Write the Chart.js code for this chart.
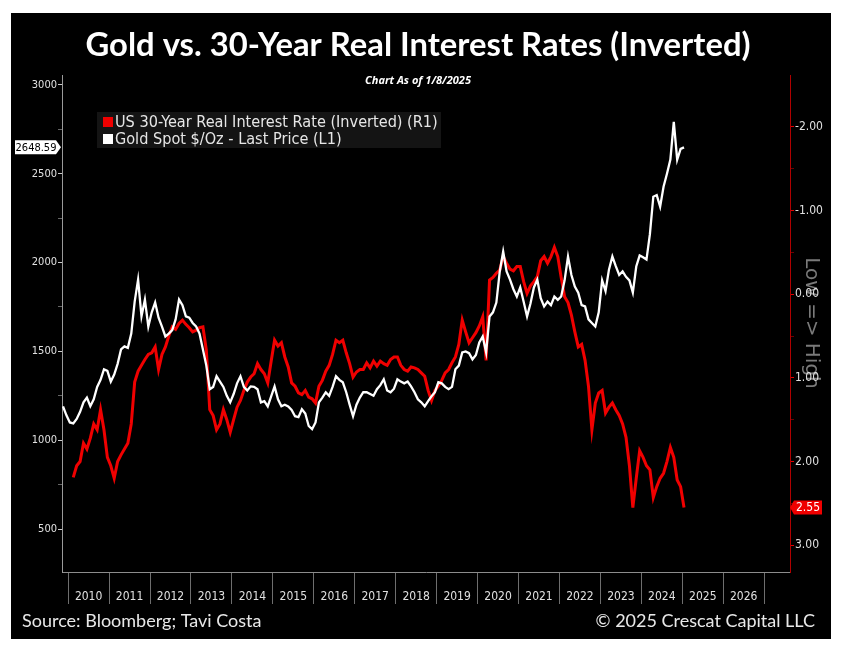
<!DOCTYPE html>
<html>
<head>
<meta charset="utf-8">
<script src="https://cdn.jsdelivr.net/npm/chart.js@4"></script>
<style>
html,body{margin:0;padding:0;background:#fff;}
#box{position:absolute;left:11px;top:13px;width:820px;height:626px;background:#000;}
</style>
</head>
<body>
<div id="box"><canvas id="myChart"></canvas></div>
<script>
'use strict'
// texts
let titleText = 'Gold vs. 30-Year Real Interest Rates (Inverted)';
let subTitle = 'Chart As of 1/8/2025';
let rateName = 'US 30-Year Real Interest Rate (Inverted) (R1)';
let goldName = 'Gold Spot $/Oz - Last Price (L1)';
let sideLabel = 'Low => High';
let sourceText = 'Source: Bloomberg; Tavi Costa';
let copyText = '\u00A9 2025 Crescat Capital LLC';

// axes
let yearTicks = [2010,2011,2012,2013,2014,2015,2016,2017,2018,2019,2020,2021,2022,2023,2024,2025,2026];
let goldTicks = [500,750,1000,1250,1500,1750,2000,2250,2500,2750,3000];
let rateTicks = [-2,-1.5,-1,-0.5,0,0.5,1,1.5,2,2.5,3];

// gold monthly, starts Nov 2009
let goldStart = [2009, 11];
let gold = [
 1190,1140,
 1100,1095,1120,1160,1213,1240,1191,1230,1300,1340,1399,1390,
 1330,1370,1430,1511,1528,1520,1600,1780,1904,1697,1792,1640,
 1720,1775,1690,1640,1584,1600,1620,1680,1792,1760,1697,1690,
 1660,1640,1600,1511,1420,1287,1300,1360,1330,1300,1250,1213,
 1260,1320,1360,1300,1280,1303,1300,1287,1213,1220,1190,1247,
 1303,1230,1191,1200,1190,1170,1135,1130,1174,1150,1080,1062,
 1100,1213,1240,1270,1250,1300,1360,1340,1326,1270,1200,1135,
 1200,1240,1270,1270,1260,1250,1287,1310,1343,1280,1270,1290,
 1343,1330,1320,1330,1303,1270,1230,1213,1191,1220,1247,1270,
 1326,1320,1300,1287,1300,1399,1420,1494,1500,1490,1455,1480,
 1550,1584,1494,1697,1720,1775,1950,2062,1950,1904,1850,1809,
 1860,1780,1697,1770,1860,1904,1800,1753,1780,1760,1809,1790,
 1809,1900,2034,1930,1865,1830,1760,1753,1680,1660,1640,1720,
 1900,1840,1960,2034,1980,1930,1950,1920,1900,1831,1978,2040,
 2030,2017,2160,2371,2380,2315,2427,2500,2580,2792,2579,2640,
 2648.59
];

// 30y real rate monthly, starts Feb 2010
let rateStart = [2010, 2];
let rate = [
 2.19,2.05,2.00,1.78,1.85,1.72,1.55,1.62,1.38,1.62,1.95,
 2.05,2.20,2.00,1.92,1.85,1.78,1.55,1.05,0.92,0.85,0.78,0.72,
 0.70,0.63,0.90,0.72,0.63,0.50,0.39,0.42,0.35,0.31,0.36,0.40,
 0.45,0.43,0.40,0.39,0.67,1.38,1.45,1.62,1.55,1.38,1.50,1.65,
 1.50,1.35,1.27,1.15,1.05,0.99,0.95,0.83,0.90,0.95,1.06,0.80,
 0.55,0.62,0.58,0.75,0.87,1.06,1.10,1.18,1.20,1.15,1.23,1.25,
 1.30,1.10,1.03,0.92,0.85,0.72,0.55,0.58,0.55,0.70,0.83,0.99,
 0.93,0.90,0.90,0.82,0.88,0.80,0.86,0.80,0.83,0.85,0.78,0.75,
 0.75,0.85,0.90,0.92,0.87,0.88,0.90,0.94,0.98,1.15,1.27,1.15,
 1.10,1.03,0.94,0.90,0.82,0.75,0.60,0.31,0.45,0.58,0.52,0.46,
 0.38,0.27,0.79,-0.17,-0.20,-0.25,-0.29,-0.45,-0.37,-0.30,-0.28,-0.33,
 -0.33,-0.15,-0.01,-0.10,-0.15,-0.21,-0.40,-0.45,-0.37,-0.45,-0.56,-0.45,
 -0.20,0.03,0.10,0.25,0.45,0.63,0.60,0.79,1.10,1.62,1.30,1.18,
 1.15,1.42,1.35,1.30,1.38,1.45,1.55,1.71,2.05,2.55,2.20,1.87,
 1.95,2.05,2.10,2.43,2.30,2.20,2.14,2.00,1.83,1.95,2.22,2.30,
 2.55
];

let redColor = '#f00000';
let condFont = '"DejaVu Sans Condensed", "DejaVu Sans", sans-serif';

function toPoints(start, values) {
  let pts = [];
  for (let i = 0; i < values.length; i++) {
    let m = start[1] - 1 + i;
    pts.push({x: start[0] + Math.floor(m / 12) + ((m % 12) + 0.5) / 12, y: values[i]});
  }
  return pts;
}

function fitFont(ctx, text, base, family, width, weight) {
  ctx.font = weight + ' ' + base + 'px ' + family;
  let w = ctx.measureText(text).width;
  return weight + ' ' + (base * width / w).toFixed(2) + 'px ' + family;
}

const textPlugin = {
  id: 'texts',
  beforeDraw(chart) {
    let ctx = chart.ctx;
    ctx.save();
    ctx.translate(800, 310);
    ctx.rotate(Math.PI / 2);
    ctx.fillStyle = '#7a7a7a';
    ctx.font = '20px "DejaVu Sans"';
    ctx.textAlign = 'center';
    ctx.textBaseline = 'middle';
    ctx.fillText(sideLabel, 0, 0);
    ctx.restore();
  },
  afterDraw(chart) {
    let ctx = chart.ctx;
    ctx.save();
    // title
    ctx.fillStyle = '#ffffff';
    ctx.textAlign = 'center';
    ctx.textBaseline = 'middle';
    ctx.font = 'bold 33px Lato';
    ctx.fillText(titleText, 407, 32, 665);
    ctx.font = 'italic bold 11px "Open Sans"';
    ctx.fillText(subTitle, 407, 68);

    // legend
    ctx.fillStyle = '#141414';
    ctx.fillRect(86, 99, 344, 36);
    ctx.fillStyle = redColor;
    ctx.fillRect(92, 104, 10, 10);
    ctx.fillStyle = '#ffffff';
    ctx.fillRect(92, 121, 10, 10);
    ctx.fillStyle = '#e6e6e6';
    ctx.textAlign = 'left';
    ctx.font = fitFont(ctx, rateName, 14, condFont, 323, 'normal');
    ctx.fillText(rateName, 104, 110);
    ctx.fillText(goldName, 104, 127);

    // last value tags
    let yl = chart.scales.y.getPixelForValue(gold[gold.length - 1]);
    ctx.fillStyle = '#ffffff';
    ctx.beginPath();
    ctx.moveTo(4, yl - 7);
    ctx.lineTo(45, yl - 7);
    ctx.lineTo(50, yl);
    ctx.lineTo(45, yl + 7);
    ctx.lineTo(4, yl + 7);
    ctx.closePath();
    ctx.fill();
    ctx.fillStyle = '#000000';
    ctx.textAlign = 'center';
    ctx.font = '11px ' + condFont;
    ctx.fillText(gold[gold.length - 1].toFixed(2), 25, yl + 0.5);

    let yr = chart.scales.y1.getPixelForValue(rate[rate.length - 1]);
    ctx.fillStyle = redColor;
    ctx.beginPath();
    ctx.moveTo(779, yr);
    ctx.lineTo(783, yr - 7);
    ctx.lineTo(811, yr - 7);
    ctx.lineTo(811, yr + 7);
    ctx.lineTo(783, yr + 7);
    ctx.closePath();
    ctx.fill();
    ctx.fillStyle = '#ffffff';
    ctx.font = '12px ' + condFont;
    ctx.fillText(rate[rate.length - 1].toFixed(2), 797, yr + 0.5);

    // footer
    ctx.fillStyle = '#e8e8e8';
    ctx.font = '18px Lato';
    ctx.textAlign = 'left';
    ctx.fillText(sourceText, 11, 608);
    ctx.textAlign = 'right';
    ctx.fillText(copyText, 804, 608);
    ctx.restore();
  }
};

let ctx = document.getElementById('myChart').getContext('2d');
let myChart = new Chart(ctx, {
  type: 'line',
  data: {
    datasets: [
      {
        label: goldName,
        data: toPoints(goldStart, gold),
        yAxisID: 'y',
        borderColor: '#ffffff',
        borderWidth: 2.3,
        pointRadius: 0,
        tension: 0
      },
      {
        label: rateName,
        data: toPoints(rateStart, rate),
        yAxisID: 'y1',
        borderColor: redColor,
        borderWidth: 3,
        pointRadius: 0,
        tension: 0
      }
    ]
  },
  options: {
    responsive: true,
    maintainAspectRatio: false,
    animation: false,
    layout: {padding: {top: 62, left: 0, right: 0, bottom: 0}},
    plugins: {legend: {display: false}, tooltip: {enabled: false}, title: {display: false}},
    scales: {
      x: {
        type: 'linear',
        min: 2009.85,
        max: 2027.63,
        afterBuildTicks: s => { s.ticks = yearTicks.concat([2027]).map(v => ({value: v})); },
        afterFit: s => { s.height = 67; },
        grid: {display: true, drawOnChartArea: false, drawTicks: true, tickLength: 32, color: '#6e6e6e'},
        border: {display: true, color: '#8c8c8c'},
        ticks: {
          autoSkip: false, maxRotation: 0, labelOffset: 20.47, padding: -14,
          color: '#e0e0e0', font: {family: condFont, size: 12},
          callback: v => yearTicks.includes(v) ? String(v) : ''
        }
      },
      y: {
        position: 'left',
        min: 258,
        max: 3056,
        afterBuildTicks: s => { s.ticks = goldTicks.map(v => ({value: v})); },
        afterFit: s => { s.width = 51; },
        grid: {drawOnChartArea: false, tickLength: 4, tickColor: c => c.tick && c.tick.value % 500 === 0 ? '#cccccc' : '#666666'},
        border: {display: true, color: '#9a9a9a'},
        ticks: {
          autoSkip: false, padding: 1, color: '#e0e0e0', font: {family: condFont, size: 11},
          callback: v => v % 500 === 0 ? String(v) : ''
        }
      },
      y1: {
        position: 'right',
        reverse: true,
        min: -2.62,
        max: 3.32,
        afterBuildTicks: s => { s.ticks = rateTicks.map(v => ({value: v})); },
        afterFit: s => { s.width = 41; },
        grid: {drawOnChartArea: false, tickLength: 4, tickColor: c => c.tick && Number.isInteger(c.tick.value) ? '#e00000' : '#700000'},
        border: {display: true, color: '#b00000'},
        ticks: {
          autoSkip: false, padding: 1, color: '#e0e0e0', font: {family: condFont, size: 12},
          callback: v => Number.isInteger(v) ? v.toFixed(2) : ''
        }
      }
    }
  },
  plugins: [textPlugin]
});
</script>
</body>
</html>
